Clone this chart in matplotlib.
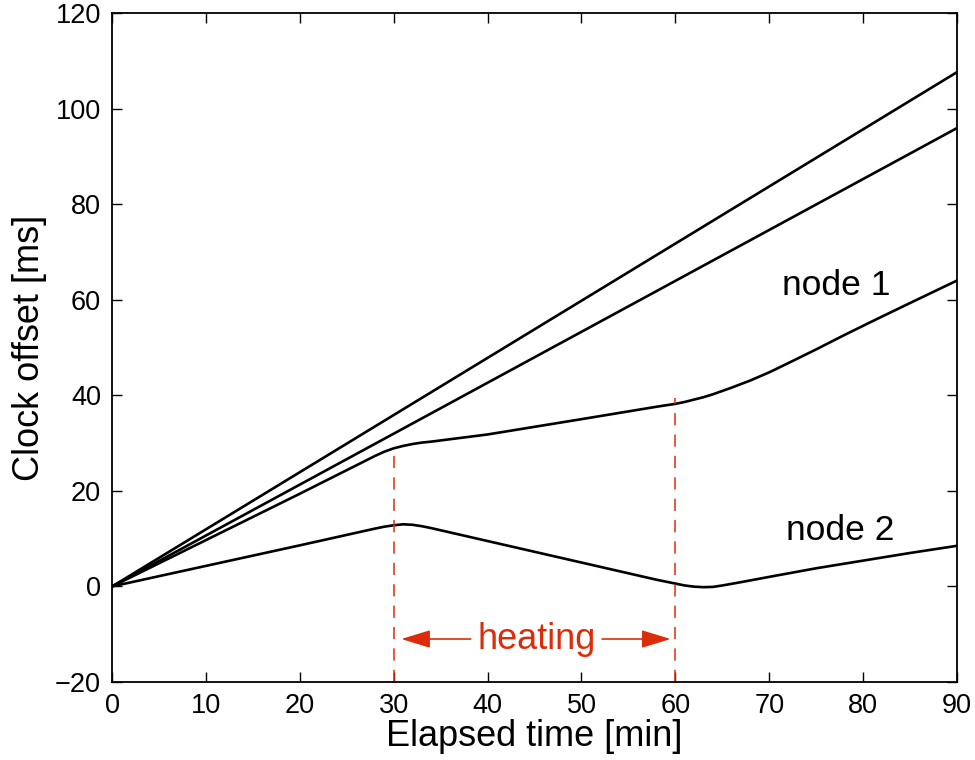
import matplotlib
matplotlib.use("Agg")
import matplotlib.pyplot as plt

plt.rcParams["font.family"] = ["Liberation Sans", "DejaVu Sans"]

# clock offset traces [ms] vs elapsed time [min]
t_a = [0, 90]
off_a = [0, 107.6]
t_b = [0, 90]
off_b = [0, 95.9]
t_node1 = [0, 10, 20, 28, 29, 30, 31, 32, 33, 34, 36, 40, 50, 58, 59, 60, 61, 62, 63, 64, 66, 68, 70, 72, 75, 78, 81, 85, 90]
off_node1 = [0, 9.7, 19.4, 27.3, 28.2, 28.9, 29.4, 29.8, 30.1, 30.3, 30.8, 31.8, 35.0, 37.6, 37.9, 38.2, 38.6, 39.1, 39.6, 40.2, 41.6, 43.1, 44.8, 46.7, 49.6, 52.6, 55.5, 59.3, 64.0]
t_node2 = [0, 10, 20, 28, 29, 30, 31, 32, 33, 34, 40, 50, 58, 59, 60, 61, 62, 63, 64, 65, 67, 70, 75, 80, 85, 90]
off_node2 = [0, 4.3, 8.6, 12.1, 12.5, 12.8, 13.0, 12.9, 12.6, 12.2, 9.5, 5.0, 1.4, 1.0, 0.6, 0.2, -0.05, -0.15, -0.1, 0.2, 0.9, 2.0, 3.8, 5.4, 7.0, 8.5]

heat_start, heat_end = 30, 60
red = "#dc2d0a"

fig = plt.figure(figsize=(9.75, 7.6), dpi=100)
ax = fig.add_axes([0.115, 0.1026, 0.8665, 0.8804])

for t, off in [(t_a, off_a), (t_b, off_b), (t_node1, off_node1), (t_node2, off_node2)]:
    ax.plot(t, off, color="k", lw=1.9, solid_joinstyle="round", solid_capstyle="round")

# dashed markers for heating period, up to node 1 curve
ax.plot([heat_start, heat_start], [-20, 28.0], color=red, lw=1.1, ls=(0, (8, 6)))
ax.plot([heat_end, heat_end], [-20, 39.5], color=red, lw=1.1, ls=(0, (8, 6)))

arrow_kw = dict(arrowstyle="-|>,head_length=1.8,head_width=0.55", color=red, lw=1.2,
                shrinkA=0, shrinkB=0)
ax.annotate("", xy=(30.8, -11), xytext=(38.2, -11), arrowprops=arrow_kw)
ax.annotate("", xy=(59.5, -11), xytext=(52.2, -11), arrowprops=arrow_kw)
ax.text(45.2, -11, "heating", color=red, fontsize=26, ha="center", va="center")

ax.text(77.1, 63, "node 1", fontsize=25.5, ha="center", va="center")
ax.text(77.6, 11.8, "node 2", fontsize=25.5, ha="center", va="center")

ax.set_xlim(0, 90)
ax.set_ylim(-20, 120)
ax.set_xticks(range(0, 91, 10))
ax.set_yticks(range(-20, 121, 20))
ax.set_yticklabels(["\u221220"] + [str(v) for v in range(0, 121, 20)])
ax.tick_params(direction="in", length=7, width=1, top=True, right=True, labelsize=19.5, pad=8)
for s in ax.spines.values():
    s.set_linewidth(1.3)

ax.set_xlabel("Elapsed time [min]", fontsize=26, labelpad=0)
ax.set_ylabel("Clock offset [ms]", fontsize=26, labelpad=6)

fig.savefig("out.png", dpi=100)
